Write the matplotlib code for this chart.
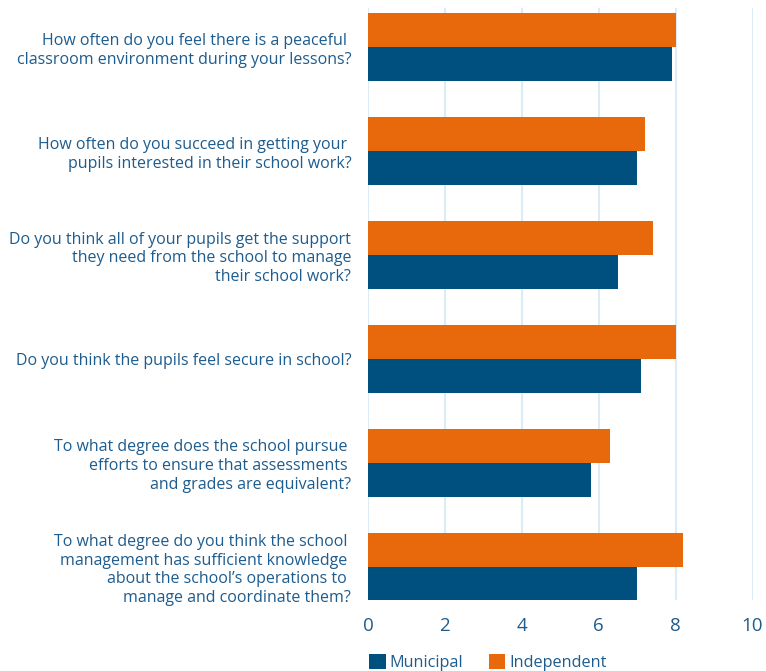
import matplotlib.pyplot as plt
import numpy as np

plt.rcParams['font.family'] = ['Open Sans', 'DejaVu Sans']

questions = [
    "How often do you feel there is a peaceful \nclassroom environment during your lessons?",
    "How often do you succeed in getting your \npupils interested in their school work?",
    "Do you think all of your pupils get the support\nthey need from the school to manage\ntheir school work?",
    "Do you think the pupils feel secure in school?",
    "To what degree does the school pursue \nefforts to ensure that assessments \nand grades are equivalent?",
    "To what degree do you think the school \nmanagement has sufficient knowledge \nabout the school\u2019s operations to \nmanage and coordinate them?",
]
municipal = [7.9, 7.0, 6.5, 7.1, 5.8, 7.0]
independent = [8.0, 7.2, 7.4, 8.0, 6.3, 8.2]

blue = '#00507f'
orange = '#e8690b'
text_col = '#1d5c8e'

fig = plt.figure(figsize=(7.66, 6.71), dpi=100)
ax = fig.add_axes([0.4804, 0.106, 0.502, 0.882])

y = np.arange(len(questions))
h = 0.327
ax.barh(y - h / 2, independent, height=h, color=orange, label='Independent', zorder=3)
ax.barh(y + h / 2, municipal, height=h, color=blue, label='Municipal', zorder=3)

ax.set_xlim(0, 10)
ax.set_ylim(5.32, -0.375)
ax.set_xticks(range(0, 11, 2))
ax.set_yticks(y)
ax.set_yticklabels(questions, fontsize=11.5, color=text_col, linespacing=1.22)
ax.tick_params(axis='y', length=0, pad=12)
ax.tick_params(axis='x', length=0, pad=12, labelsize=13.5, labelcolor=text_col)
ax.grid(axis='x', color='#dcecf7', linewidth=1.5, zorder=0)
for s in ax.spines.values():
    s.set_visible(False)

handles, labels = ax.get_legend_handles_labels()
fig.legend(handles[::-1], labels[::-1], loc='lower left', bbox_to_anchor=(0.463, -0.022),
           ncol=2, frameon=False, fontsize=11.7, labelcolor=text_col,
           handlelength=1.0, handleheight=1.0, handletextpad=0.25, columnspacing=1.6)

fig.savefig('out.png', dpi=100)
